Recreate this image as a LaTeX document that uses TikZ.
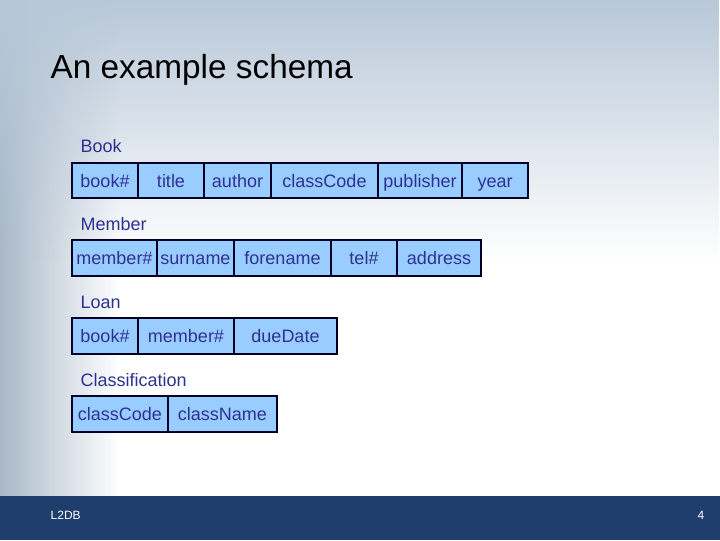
\documentclass[tikz,border=0pt]{standalone}
\usepackage{fontspec}
\setmainfont{Liberation Sans}
\usetikzlibrary{fadings}
\begin{document}
\begin{tikzpicture}[x=0.75pt,y=-0.75pt,
  cell/.style={draw=black!85!blue,line width=0.8pt,fill=cellblue},
  ctext/.style={text=txtblue,font=\fontsize{13.5}{15}\selectfont,anchor=center,text height=1.6ex,text depth=0.4ex,inner sep=0pt,yshift=-1.5pt},
  lbl/.style={text=txtblue,font=\fontsize{13.5}{15}\selectfont,anchor=west}]
\definecolor{cellblue}{HTML}{99CCFF}
\definecolor{txtblue}{HTML}{2E3192}
\definecolor{barblue}{HTML}{1F3E6E}
\definecolor{bgtop}{HTML}{B8C8D8}
\definecolor{bgleft}{HTML}{A8B8C8}
\useasboundingbox (0,0) rectangle (720,540);
\fill[white] (0,0) rectangle (720,496);
\shade[left color=bgleft,right color=white] (0,0) rectangle (120,496);
\fill[bgtop,path fading=south] (0,0) rectangle (720,260);
\fill[barblue] (0,496) rectangle (720,540);
\node[anchor=west,font=\fontsize{25}{30}\selectfont,text=black] (title) at (46,70) {An example schema};
\node[anchor=west,font=\fontsize{9}{10}\selectfont,text=white] (foot) at (46,515) {L2DB};
\node[anchor=east,font=\fontsize{9}{10}\selectfont,text=white] (pg) at (709,515) {4};
% Book
\node[lbl] (lb) at (76,146) {Book};
\foreach \a/\b/\t [count=\i] in {72/138/book\#,138/204/title,204/271/author,271/378/classCode,378/462/publisher,462/528/year}{
  \draw[cell] (\a,163) rectangle (\b,198);
  \node[ctext] (b\i) at ({(\a+\b)/2},181) {\t};}
% Member
\node[lbl] (lm) at (76,224) {Member};
\foreach \a/\b/\t [count=\i] in {72/157/member\#,157/234/surname,234/331/forename,331/397/tel\#,397/481/address}{
  \draw[cell] (\a,240) rectangle (\b,276);
  \node[ctext] (m\i) at ({(\a+\b)/2},258) {\t};}
% Loan
\node[lbl] (ll) at (76,302) {Loan};
\foreach \a/\b/\t [count=\i] in {72/138/book\#,138/234/member\#,234/337/dueDate}{
  \draw[cell] (\a,318) rectangle (\b,354);
  \node[ctext] (l\i) at ({(\a+\b)/2},336) {\t};}
% Classification
\node[lbl] (lc) at (76,380) {Classification};
\foreach \a/\b/\t [count=\i] in {72/168/classCode,168/277/className}{
  \draw[cell] (\a,396) rectangle (\b,432);
  \node[ctext] (c\i) at ({(\a+\b)/2},414) {\t};}
\end{tikzpicture}
\end{document}
